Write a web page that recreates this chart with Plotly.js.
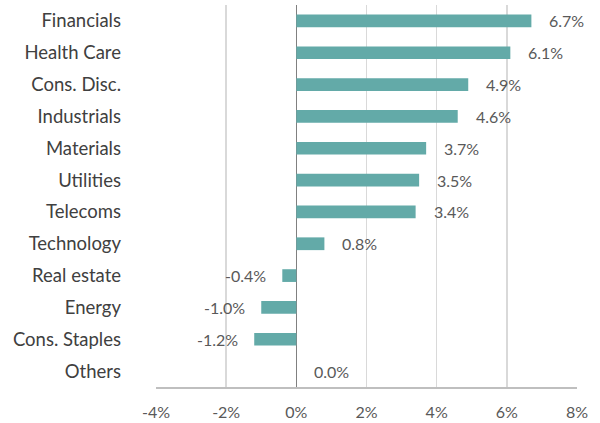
<!DOCTYPE html>
<html>
<head>
<meta charset="utf-8">
<script src="https://cdn.plot.ly/plotly-3.0.1.min.js"></script>
<style>html,body{margin:0;padding:0;background:#fff;}#chart{width:600px;height:423px;}</style>
</head>
<body>
<div id="chart"></div>
<script>
const sectors = ["Financials","Health Care","Cons. Disc.","Industrials","Materials","Utilities","Telecoms","Technology","Real estate","Energy","Cons. Staples","Others"];
const returns = [6.7, 6.1, 4.9, 4.6, 3.7, 3.5, 3.4, 0.8, -0.4, -1.0, -1.2, 0.0];
const tickVals = [-4, -2, 0, 2, 4, 6, 8];
const tickText = ["-4%","-2%","0%","2%","4%","6%","8%"];

const font = {family: "Lato, Carlito, 'Open Sans', sans-serif", size: 16, color: "#595959"};

const annotations = sectors.map((s, i) => ({
  x: returns[i], y: s, xref: 'x', yref: 'y',
  text: returns[i].toFixed(1) + '%',
  showarrow: false,
  xanchor: returns[i] < 0 ? 'right' : 'left',
  xshift: returns[i] < 0 ? -14 : 16,
  font: font
}));

Plotly.newPlot('chart', [{
  type: 'bar',
  orientation: 'h',
  y: sectors,
  x: returns,
  width: 0.4,
  marker: {color: '#63aaa8'},
  hoverinfo: 'none'
}], {
  width: 600, height: 423,
  margin: {l: 156, r: 23, t: 5, b: 36},
  paper_bgcolor: '#fff', plot_bgcolor: '#fff',
  font: font,
  showlegend: false,
  bargap: 0.6,
  xaxis: {
    range: [-4, 8], tickvals: tickVals, ticktext: tickText,
    showgrid: true, gridcolor: '#d9d9d9', gridwidth: 1.5,
    zeroline: true, zerolinecolor: '#808080', zerolinewidth: 1.5,
    showline: true, linecolor: '#bfbfbf', linewidth: 1.5,
    ticks: '', ticklabelstandoff: 10, fixedrange: true
  },
  yaxis: {
    type: 'category', categoryorder: 'array', categoryarray: sectors,
    range: [11.5, -0.5],
    showgrid: false, zeroline: false, showline: false,
    tickfont: {family: font.family, size: 18.5, color: '#404040'},
    ticks: '', ticklabelstandoff: 34, fixedrange: true
  },
  annotations: annotations
}, {displayModeBar: false, staticPlot: true});
</script>
</body>
</html>
